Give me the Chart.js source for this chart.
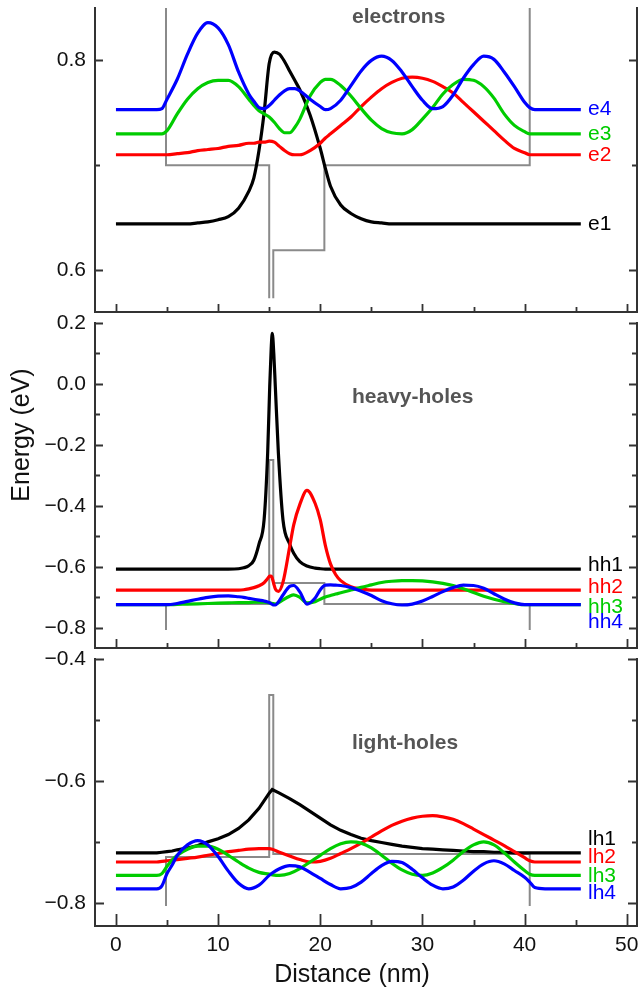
<!DOCTYPE html>
<html>
<head>
<title>Quantum well states</title>
<script src="https://cdn.jsdelivr.net/npm/chart.js@4"></script>
<style>
  body { margin: 0; background: #fff; }
  #wrap { position: relative; width: 639px; height: 990px; }
  canvas { position: absolute; left: 0; top: 0; }
</style>
</head>
<body>
<div id="wrap">
  <canvas id="electrons" width="639" height="990"></canvas>
  <canvas id="heavy" width="639" height="990"></canvas>
  <canvas id="light" width="639" height="990"></canvas>
</div>
<script>
// ---- data ----
const xTicks = [0, 10, 20, 30, 40, 50];
const xMinor = [5, 15, 25, 35, 45];

// electrons
const xElectron = [0, 2, 4, 4.5, 5, 6, 7, 8, 9, 10, 11, 12, 13, 13.5, 14, 14.5, 15, 15.5, 16, 16.5,
  17, 17.5, 18, 19, 20, 20.5, 21, 22, 23, 24, 25, 26, 27, 28, 29, 30, 31, 32, 33, 34,
  35, 36, 37, 38, 39, 40, 40.5, 41, 42, 44, 45.5];
const e1 = [.644, .644, .644, .644, .644, .644, .644, .645, .646, .648,
  .651, .659, .675, .688, .714, .750, .797, .808, .806, .799,
  .790, .781, .772, .748, .716, .697, .680, .662, .654, .649,
  .646, .645, .644, .644, .644, .644, .644, .644, .644, .644,
  .644, .644, .644, .644, .644, .644, .644, .644, .644, .644, .644];
const e2 = [.710, .710, .710, .710, .710, .711, .712, .714, .715, .716,
  .718, .719, .721, .721, .722, .722, .723, .722, .718, .714,
  .711, .710, .710, .714, .721, .726, .730, .738, .746, .756,
  .765, .773, .779, .783, .784, .783, .780, .775, .769, .760,
  .751, .742, .733, .724, .716, .712, .710, .710, .710, .710, .710];
const e3 = [.730, .730, .730, .730, .733, .749, .763, .773, .779, .781,
  .781, .775, .763, .757, .752, .749, .746, .741, .735, .731,
  .731, .736, .744, .766, .779, .782, .782, .776, .766, .754,
  .743, .735, .731, .730, .734, .744, .755, .768, .777, .782,
  .781, .775, .764, .749, .738, .732, .730, .730, .730, .730, .730];
const e4 = [.753, .753, .753, .754, .763, .782, .806, .826, .836, .831,
  .815, .789, .768, .761, .755, .754, .757, .762, .767, .771,
  .773, .773, .771, .763, .756, .753, .754, .762, .776, .790,
  .800, .804, .800, .789, .775, .762, .754, .756, .767, .783,
  .796, .804, .801, .789, .775, .760, .755, .753, .753, .753, .753];
const bandElecX = [4.9, 4.9, 15.0, 15.0, 15.2, 15.4, 15.4, 20.4, 20.4, 40.5, 40.5];
const bandElecY = [0.87, 0.70, 0.70, 0.573, null, 0.573, 0.619, 0.619, 0.70, 0.70, 0.87];
const elecTicks = [0.6, 0.8];
const elecMinor = [0.7];

// heavy holes
const xHeavy = [0, 2, 4, 5, 6, 7, 8, 9, 10, 11,
  12, 12.5, 13, 13.5, 14, 14.5, 14.85, 15.05, 15.2, 15.3,
  15.45, 15.6, 15.9, 16.35, 17, 17.4, 18, 18.7, 19.5, 20,
  20.5, 21, 21.5, 22, 23, 24, 25, 26, 27, 28,
  29, 30, 31, 32, 33, 34, 35, 36, 37, 38,
  39, 40, 41, 42, 44, 45.5];
const hh1 = [-.607, -.607, -.607, -.607, -.607, -.607, -.607, -.607, -.607, -.607,
  -.606, -.603, -.596, -.578, -.525, -.446, -.227, -.009, .12, .166,
  .10, -.009, -.227, -.446, -.525, -.555, -.583, -.597, -.604, -.606,
  -.607, -.607, -.607, -.607, -.607, -.607, -.607, -.607, -.607, -.607,
  -.607, -.607, -.607, -.607, -.607, -.607, -.607, -.607, -.607, -.607,
  -.607, -.607, -.607, -.607, -.607, -.607];
const hh2 = [-.676, -.676, -.676, -.676, -.676, -.676, -.676, -.676, -.676, -.676,
  -.676, -.675, -.672, -.668, -.662, -.652, -.638, -.630, -.630, -.637,
  -.656, -.672, -.680, -.650, -.535, -.462, -.395, -.349, -.392, -.446,
  -.530, -.590, -.625, -.645, -.665, -.672, -.676, -.676, -.676, -.676,
  -.676, -.676, -.676, -.676, -.676, -.676, -.676, -.676, -.676, -.676,
  -.676, -.676, -.676, -.676, -.676, -.676];
const hh3 = [-.724, -.724, -.724, -.724, -.723, -.722, -.721, -.720, -.719, -.718,
  -.717, -.717, -.717, -.716, -.716, -.716, -.717, -.718, -.719, -.720,
  -.721, -.722, -.718, -.708, -.696, -.692, -.700, -.718, -.714, -.706,
  -.699, -.694, -.689, -.685, -.676, -.667, -.659, -.651, -.647, -.645,
  -.645, -.646, -.649, -.654, -.661, -.672, -.684, -.696, -.706, -.714,
  -.720, -.724, -.724, -.724, -.724, -.724];
const hh4 = [-.724, -.724, -.724, -.724, -.720, -.713, -.706, -.700, -.696, -.695,
  -.698, -.700, -.703, -.706, -.709, -.712, -.715, -.718, -.721, -.723,
  -.725, -.725, -.715, -.692, -.664, -.661, -.682, -.722, -.702, -.675,
  -.660, -.659, -.660, -.661, -.668, -.680, -.694, -.711, -.721, -.725,
  -.722, -.712, -.697, -.681, -.668, -.660, -.661, -.670, -.688, -.705,
  -.718, -.724, -.724, -.724, -.724, -.724];
const bandHeavyX = [4.9, 4.9, 15.0, 15.0, 15.4, 15.4, 20.4, 20.4, 40.5, 40.5];
const bandHeavyY = [-0.807, -0.722, -0.722, -0.249, -0.249, -0.653, -0.653, -0.722, -0.722, -0.807];
const heavyTicks = [-0.8, -0.6, -0.4, -0.2, 0.0, 0.2];
const heavyMinor = [-0.7, -0.5, -0.3, -0.1, 0.1];

// light holes
const xLight = [0, 2, 4, 4.5, 5, 5.5, 6, 7, 8, 9,
  10, 11, 12, 13, 14, 15, 15.3, 16, 17, 18,
  19, 20, 21, 22, 23, 24, 25, 26, 27, 28,
  29, 30, 31, 32, 33, 34, 35, 36, 37, 38,
  39, 40, 40.5, 41, 42, 44, 45.5];
const lh1 = [-.718, -.718, -.718, -.717, -.716, -.715, -.713, -.710, -.706, -.700,
  -.695, -.688, -.678, -.664, -.645, -.620, -.614, -.620, -.629, -.639,
  -.650, -.661, -.672, -.681, -.688, -.694, -.698, -.701, -.704, -.707,
  -.709, -.711, -.712, -.713, -.714, -.715, -.716, -.716, -.717, -.717,
  -.718, -.718, -.718, -.718, -.718, -.718, -.718];
const lh2 = [-.733, -.733, -.733, -.732, -.731, -.730, -.729, -.727, -.725, -.722,
  -.719, -.716, -.714, -.712, -.711, -.711, -.712, -.717, -.723, -.729,
  -.733, -.732, -.727, -.719, -.711, -.702, -.692, -.682, -.673, -.666,
  -.661, -.658, -.657, -.659, -.663, -.670, -.679, -.688, -.697, -.706,
  -.716, -.726, -.731, -.733, -.733, -.733, -.733];
const lh3 = [-.755, -.755, -.755, -.752, -.740, -.730, -.722, -.712, -.707, -.707,
  -.712, -.722, -.733, -.743, -.750, -.753, -.754, -.755, -.752, -.744,
  -.733, -.722, -.711, -.703, -.700, -.702, -.710, -.722, -.735, -.746,
  -.753, -.755, -.751, -.742, -.730, -.716, -.705, -.700, -.705, -.718,
  -.733, -.747, -.753, -.755, -.755, -.755, -.755];
const lh4 = [-.777, -.777, -.777, -.772, -.752, -.738, -.722, -.705, -.698, -.705,
  -.724, -.748, -.768, -.777, -.771, -.755, -.751, -.744, -.739, -.741,
  -.750, -.760, -.770, -.777, -.775, -.766, -.752, -.739, -.732, -.734,
  -.745, -.759, -.771, -.777, -.774, -.763, -.748, -.736, -.731, -.736,
  -.747, -.758, -.766, -.775, -.777, -.777, -.777];
const bandLightX = [4.9, 4.9, 15.0, 15.0, 15.4, 15.4, 40.5, 40.5];
const bandLightY = [-0.805, -0.725, -0.725, -0.459, -0.459, -0.720, -0.720, -0.805];
const lightTicks = [-0.8, -0.6, -0.4];
const lightMinor = [-0.7, -0.5];

const COLORS = ['#000000', '#ff0000', '#00cc00', '#0000ff'];
const AXIS = '#333333';
const BAND = '#8a8a8a';
const FONT = "'Liberation Sans', Arial, sans-serif";

const pts = (xs, ys) => xs.map((x, i) => ({ x: x, y: ys[i] }));
const fmt = v => (Math.abs(v) < 1e-9 ? '0.0' : v.toFixed(1).replace('-', '\u2212'));
const noPad = s => { s.paddingLeft = 0; s.paddingRight = 0; s.paddingTop = 0; s.paddingBottom = 0; };

// ticks pointing inward, panel titles, series labels, axis titles
const decor = {
  id: 'decor',
  afterDraw(chart, args, o) {
    const { ctx, chartArea: a, scales: { x, y } } = chart;
    ctx.save();
    ctx.strokeStyle = AXIS;
    ctx.lineWidth = 1.8;
    ctx.beginPath();
    const xt = (vals, len) => vals.forEach(v => {
      const px = Math.round(x.getPixelForValue(v)) + 0.5;
      ctx.moveTo(px, a.bottom); ctx.lineTo(px, a.bottom - len);
    });
    const yt = (vals, len) => vals.forEach(v => {
      const py = Math.round(y.getPixelForValue(v)) + 0.5;
      ctx.moveTo(a.left, py); ctx.lineTo(a.left + len, py);
      ctx.moveTo(a.right, py); ctx.lineTo(a.right - len, py);
    });
    xt(xTicks, o.xLen[0]); xt(xMinor, o.xLen[1]);
    yt(o.yMajor, o.yLen[0]); yt(o.yMinor, o.yLen[1]);
    ctx.stroke();

    ctx.textBaseline = 'middle';
    ctx.textAlign = 'left';
    ctx.font = 'bold 21px ' + FONT;
    ctx.fillStyle = '#555555';
    ctx.fillText(o.title, x.getPixelForValue(23.1), y.getPixelForValue(o.titleY));

    ctx.font = '21px ' + FONT;
    o.names.forEach((n, i) => {
      ctx.fillStyle = COLORS[i];
      ctx.fillText(n, x.getPixelForValue(46.2), y.getPixelForValue(o.nameY[i]));
    });

    ctx.fillStyle = '#111111';
    ctx.font = '25px ' + FONT;
    ctx.textAlign = 'center';
    if (o.yTitle) {
      ctx.save();
      ctx.translate(22, 435);
      ctx.rotate(-Math.PI / 2);
      ctx.fillText(o.yTitle, 0, 0);
      ctx.restore();
    }
    if (o.xTitle) ctx.fillText(o.xTitle, 352, 975);
    ctx.restore();
  }
};

function makePanel(id, p) {
  const sets = p.series.map((s, i) => ({
    data: pts(p.x, s),
    borderColor: COLORS[i],
    borderWidth: 3.2,
    pointRadius: 0,
    // a cusp-shaped level keeps straight segments so its tip stays sharp
    cubicInterpolationMode: (p.cusp === i) ? 'default' : 'monotone',
    tension: (p.cusp === i) ? 0 : 0.4,
    fill: false
  })).reverse();
  sets.push({
    data: pts(p.bandX, p.bandY),
    borderColor: BAND,
    borderWidth: 2,
    pointRadius: 0,
    tension: 0,
    spanGaps: false,
    fill: false
  });
  const yScale = (pos) => ({
    position: pos,
    min: p.yMin, max: p.yMax,
    grid: { display: false, drawTicks: false },
    border: { color: AXIS, width: 2 },
    afterBuildTicks: s => { s.ticks = p.yMajor.map(v => ({ value: v })); },
    ticks: {
      display: pos === 'left',
      padding: 9,
      color: '#111111',
      font: { family: FONT, size: 21 },
      callback: v => fmt(v)
    },
    afterFit: s => { s.width = pos === 'left' ? 95 : 0; noPad(s); }
  });
  return new Chart(document.getElementById(id), {
    type: 'line',
    data: { datasets: sets },
    options: {
      responsive: false,
      animation: false,
      devicePixelRatio: 1,
      events: [],
      layout: { padding: p.pad, autoPadding: false },
      plugins: {
        legend: { display: false },
        tooltip: { enabled: false },
        decor: {
          xLen: p.xLen, yLen: p.yLen,
          yMajor: p.yMajor, yMinor: p.yMinor,
          title: p.title, titleY: p.titleY,
          names: p.names, nameY: p.nameY,
          yTitle: p.yTitle, xTitle: p.xTitle
        }
      },
      scales: {
        x: {
          type: 'linear',
          min: -2.05, max: 51.0,
          grid: { display: false, drawTicks: false },
          border: { color: AXIS, width: 2 },
          afterBuildTicks: s => { s.ticks = xTicks.map(v => ({ value: v })); },
          ticks: {
            display: !!p.showX,
            padding: 7,
            maxRotation: 0,
            autoSkip: false,
            color: '#111111',
            font: { family: FONT, size: 21 }
          },
          afterFit: s => { s.height = p.xHeight; noPad(s); }
        },
        y: yScale('left'),
        y2: yScale('right')
      }
    },
    plugins: [decor]
  });
}

makePanel('electrons', {
  x: xElectron, series: [e1, e2, e3, e4],
  bandX: bandElecX, bandY: bandElecY,
  yMin: 0.56, yMax: 0.85, yMajor: elecTicks, yMinor: elecMinor,
  pad: { top: 8, bottom: 678, left: 0, right: 2 }, xHeight: 0,
  xLen: [8, 5], yLen: [8, 5],
  title: 'electrons', titleY: 0.841,
  names: ['e1', 'e2', 'e3', 'e4'], nameY: [0.644, 0.710, 0.730, 0.753]
});

makePanel('heavy', {
  x: xHeavy, series: [hh1, hh2, hh3, hh4],
  bandX: bandHeavyX, bandY: bandHeavyY,
  yMin: -0.866, yMax: 0.2, yMajor: heavyTicks, yMinor: heavyMinor,
  pad: { top: 323, bottom: 342, left: 0, right: 2 }, xHeight: 0,
  xLen: [9, 5], yLen: [8, 5],
  title: 'heavy-holes', titleY: -0.042,
  names: ['hh1', 'hh2', 'hh3', 'hh4'], nameY: [-0.594, -0.666, -0.731, -0.780],
  yTitle: 'Energy (eV)'
});

makePanel('light', {
  x: xLight, series: [lh1, lh2, lh3, lh4], cusp: 0,
  bandX: bandLightX, bandY: bandLightY,
  yMin: -0.838, yMax: -0.4, yMajor: lightTicks, yMinor: lightMinor,
  pad: { top: 659, bottom: 0, left: 0, right: 2 }, xHeight: 64,
  xLen: [12, 6], yLen: [9, 5],
  title: 'light-holes', titleY: -0.538,
  names: ['lh1', 'lh2', 'lh3', 'lh4'], nameY: [-0.695, -0.725, -0.756, -0.785],
  xTitle: 'Distance (nm)', showX: true
});
</script>
</body>
</html>
